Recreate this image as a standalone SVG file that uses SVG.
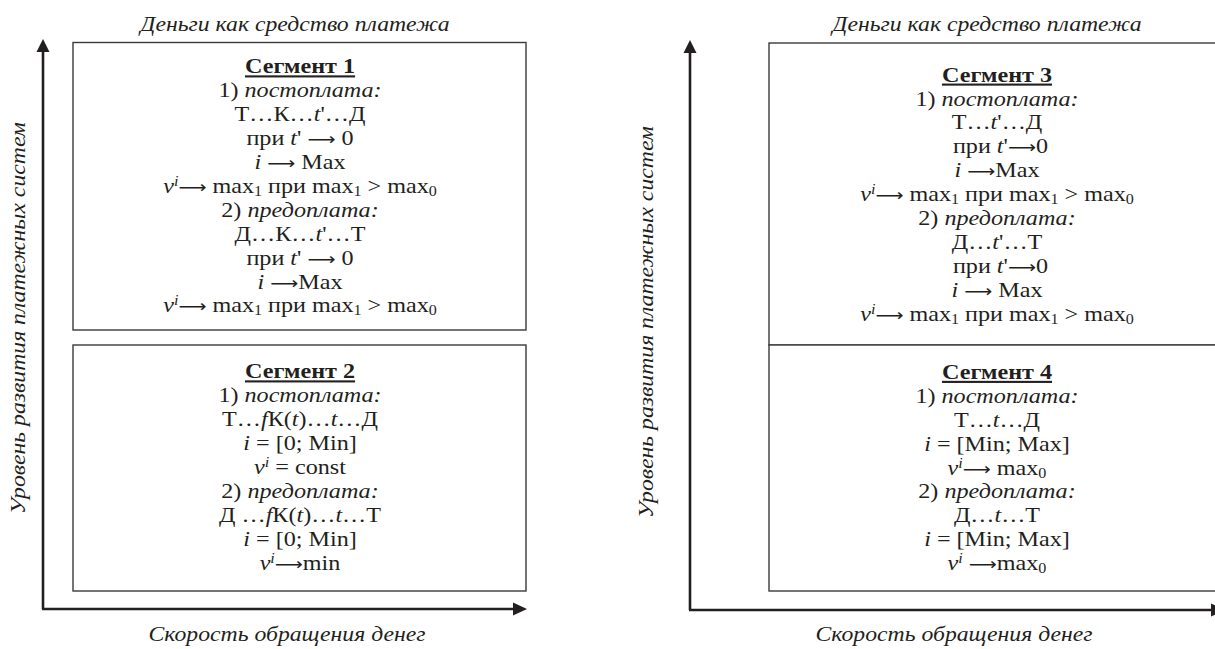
<svg xmlns="http://www.w3.org/2000/svg" width="1215" height="649" viewBox="0 0 1215 649">
<defs>
<style>
.t{font-family:"Liberation Serif","Times New Roman",serif;font-size:21px;fill:#231f20;text-anchor:middle}
.it{font-style:italic}
.h{font-weight:bold;text-decoration:underline}
.lab{font-family:"Liberation Serif","Times New Roman",serif;font-size:21px;font-style:italic;fill:#231f20;text-anchor:middle}
.box{fill:#fff;stroke:#3a3a3a;stroke-width:1.4}
.ax{stroke:#231f20;stroke-width:2.6;fill:none}
.ah{fill:#231f20}
.sb{font-size:14px}
.sp{font-size:14px;font-style:italic}
.ar{font-family:"DejaVu Sans",sans-serif;font-size:17px}
</style>
</defs>
<rect width="1215" height="649" fill="#fff"/>

<g id="connectors">
  <line class="ax" x1="43" y1="609" x2="43" y2="50"/>
  <polygon class="ah" points="43,39 36.5,52 49.5,52"/>
  <line class="ax" x1="42" y1="609" x2="515" y2="609"/>
  <polygon class="ah" points="527,609 513,602.5 513,615.5"/>
  <line class="ax" x1="690" y1="610" x2="690" y2="52"/>
  <polygon class="ah" points="690,40 683.5,53 696.5,53"/>
  <line class="ax" x1="689" y1="610" x2="1213" y2="610"/>
  <polygon class="ah" points="1225,610 1211,603.5 1211,616.5"/>
</g>

<g id="labels">
  <g transform="translate(295,0) scale(1.13,1)"><text class="lab" x="0" y="31">Деньги как средство платежа</text></g>
  <g transform="translate(987,0) scale(1.13,1)"><text class="lab" x="0" y="31">Деньги как средство платежа</text></g>
  <g transform="translate(287,0) scale(1.13,1)"><text class="lab" x="0" y="641">Скорость обращения денег</text></g>
  <g transform="translate(954,0) scale(1.13,1)"><text class="lab" x="0" y="641">Скорость обращения денег</text></g>
  <text class="lab" transform="translate(25,318) rotate(-90) scale(1.13,1)">Уровень развития платежных систем</text>
  <text class="lab" transform="translate(653,322) rotate(-90) scale(1.13,1)">Уровень развития платежных систем</text>
</g>

<g id="seg1">
  <rect class="box" x="73" y="42.5" width="453" height="287.5"/>
  <g transform="translate(300,0) scale(1.15,1)">
  <text class="t h" x="0" y="73.5">Сегмент 1</text>
  <text class="t" x="0" y="97.4">1) <tspan class="it">постоплата:</tspan></text>
  <text class="t" x="0" y="121.3">Т…К…<tspan class="it">t</tspan>'…Д</text>
  <text class="t" x="0" y="145.2">при <tspan class="it">t</tspan>' <tspan class="ar">⟶</tspan> 0</text>
  <text class="t" x="0" y="169.1"><tspan class="it">i</tspan> <tspan class="ar">⟶</tspan> Max</text>
  <text class="t" x="0" y="193"><tspan class="it">v</tspan><tspan class="sp" dy="-7">i</tspan><tspan class="ar" dy="7">⟶</tspan> max<tspan class="sb" dy="3">1</tspan><tspan dy="-3">  при max</tspan><tspan class="sb" dy="3">1</tspan><tspan dy="-3"> &gt; max</tspan><tspan class="sb" dy="3">0</tspan></text>
  <text class="t" x="0" y="216.9">2) <tspan class="it">предоплата:</tspan></text>
  <text class="t" x="0" y="240.8">Д…К…<tspan class="it">t</tspan>'…Т</text>
  <text class="t" x="0" y="264.7">при <tspan class="it">t</tspan>' <tspan class="ar">⟶</tspan> 0</text>
  <text class="t" x="0" y="288.6"><tspan class="it">i</tspan> <tspan class="ar">⟶</tspan>Max</text>
  <text class="t" x="0" y="312.5"><tspan class="it">v</tspan><tspan class="sp" dy="-7">i</tspan><tspan class="ar" dy="7">⟶</tspan> max<tspan class="sb" dy="3">1</tspan><tspan dy="-3"> при max</tspan><tspan class="sb" dy="3">1</tspan><tspan dy="-3"> &gt; max</tspan><tspan class="sb" dy="3">0</tspan></text>
  </g>
</g>

<g id="seg2">
  <rect class="box" x="73" y="345" width="453" height="246"/>
  <g transform="translate(300,0) scale(1.15,1)">
  <text class="t h" x="0" y="378.5">Сегмент 2</text>
  <text class="t" x="0" y="402.4">1) <tspan class="it">постоплата:</tspan></text>
  <text class="t" x="0" y="426.3">Т…<tspan class="it">f</tspan>К(<tspan class="it">t</tspan>)…<tspan class="it">t</tspan>…Д</text>
  <text class="t" x="0" y="450.2"><tspan class="it">i</tspan> = [0; Min]</text>
  <text class="t" x="0" y="474.1"><tspan class="it">v</tspan><tspan class="sp" dy="-7">i</tspan><tspan dy="7"> = const</tspan></text>
  <text class="t" x="0" y="498">2) <tspan class="it">предоплата:</tspan></text>
  <text class="t" x="0" y="521.9">Д …<tspan class="it">f</tspan>К(<tspan class="it">t</tspan>)…<tspan class="it">t</tspan>…Т</text>
  <text class="t" x="0" y="545.8"><tspan class="it">i</tspan> = [0; Min]</text>
  <text class="t" x="0" y="569.7"><tspan class="it">v</tspan><tspan class="sp" dy="-7">i</tspan><tspan class="ar" dy="7">⟶</tspan>min</text>
  </g>
</g>

<g id="seg3">
  <rect class="box" x="769" y="43" width="460" height="302"/>
  <g transform="translate(997,0) scale(1.15,1)">
  <text class="t h" x="0" y="81.7">Сегмент 3</text>
  <text class="t" x="0" y="105.6">1) <tspan class="it">постоплата:</tspan></text>
  <text class="t" x="0" y="129.5">Т…<tspan class="it">t</tspan>'…Д</text>
  <text class="t" x="3" y="153.4">при <tspan class="it">t</tspan>'<tspan class="ar">⟶</tspan>0</text>
  <text class="t" x="0" y="177.3"><tspan class="it">i</tspan> <tspan class="ar">⟶</tspan>Max</text>
  <text class="t" x="0" y="201.2"><tspan class="it">v</tspan><tspan class="sp" dy="-7">i</tspan><tspan class="ar" dy="7">⟶</tspan>  max<tspan class="sb" dy="3">1</tspan><tspan dy="-3"> при max</tspan><tspan class="sb" dy="3">1</tspan><tspan dy="-3"> &gt; max</tspan><tspan class="sb" dy="3">0</tspan></text>
  <text class="t" x="0" y="225.1">2) <tspan class="it">предоплата:</tspan></text>
  <text class="t" x="0" y="249">Д…<tspan class="it">t</tspan>'…Т</text>
  <text class="t" x="3" y="272.9">при <tspan class="it">t</tspan>'<tspan class="ar">⟶</tspan>0</text>
  <text class="t" x="0" y="296.8"><tspan class="it">i</tspan> <tspan class="ar">⟶</tspan> Max</text>
  <text class="t" x="0" y="320.7"><tspan class="it">v</tspan><tspan class="sp" dy="-7">i</tspan><tspan class="ar" dy="7">⟶</tspan> max<tspan class="sb" dy="3">1</tspan><tspan dy="-3"> при max</tspan><tspan class="sb" dy="3">1</tspan><tspan dy="-3"> &gt; max</tspan><tspan class="sb" dy="3">0</tspan></text>
  </g>
</g>

<g id="seg4">
  <rect class="box" x="769" y="345" width="460" height="246"/>
  <g transform="translate(997,0) scale(1.15,1)">
  <text class="t h" x="0" y="379">Сегмент 4</text>
  <text class="t" x="0" y="402.9">1) <tspan class="it">постоплата:</tspan></text>
  <text class="t" x="0" y="426.8">Т…<tspan class="it">t</tspan>…Д</text>
  <text class="t" x="0" y="450.7"><tspan class="it">i</tspan> = [Min; Max]</text>
  <text class="t" x="0" y="474.6"><tspan class="it">v</tspan><tspan class="sp" dy="-7">i</tspan><tspan class="ar" dy="7">⟶</tspan> max<tspan class="sb" dy="3">0</tspan></text>
  <text class="t" x="0" y="498.5">2) <tspan class="it">предоплата:</tspan></text>
  <text class="t" x="0" y="522.4">Д…<tspan class="it">t</tspan>…Т</text>
  <text class="t" x="0" y="546.3"><tspan class="it">i</tspan> = [Min; Max]</text>
  <text class="t" x="0" y="570.2"><tspan class="it">v</tspan><tspan class="sp" dy="-7">i</tspan> <tspan class="ar" dy="7">⟶</tspan>max<tspan class="sb" dy="3">0</tspan></text>
  </g>
</g>
</svg>
